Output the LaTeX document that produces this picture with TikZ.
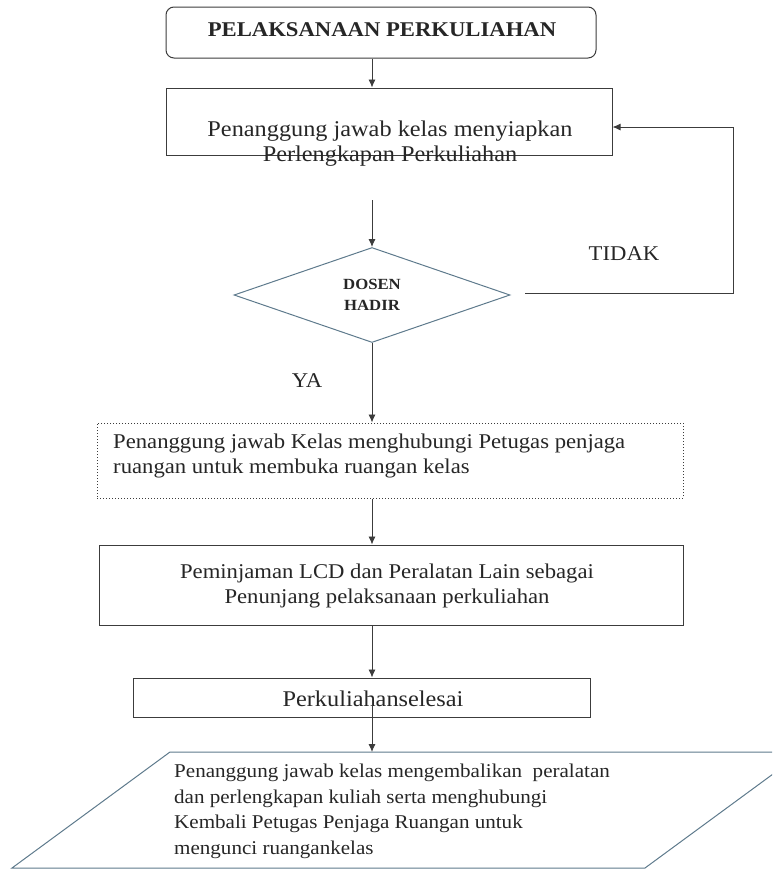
\documentclass[tikz,border=0pt]{standalone}
\usepackage{fontspec}
\setmainfont[FakeStretch=1.08]{Liberation Serif}
\usetikzlibrary{shapes.geometric,arrows.meta}
\definecolor{ln}{HTML}{3C3C3C}
\definecolor{bl}{HTML}{5E7A8C}
\tikzset{
  box/.style={draw=ln, line width=1pt, inner sep=0pt},
  txt/.style={inner sep=0pt, text=black!85, font=\fontsize{21}{25}\selectfont},
  arr/.style={draw=ln, line width=0.9pt, -{Latex[length=8pt,width=7pt]}},
  plain/.style={draw=ln, line width=1pt}
}
\begin{document}
\begin{tikzpicture}[x=1pt,y=-1pt]
\useasboundingbox (0,0) rectangle (772,871);
\clip (0,0) rectangle (772,871);
% title
\node[box, rounded corners=8pt, minimum width=430pt, minimum height=51pt] (title) at (381,32.5) {};
\node[txt, font=\fontsize{21}{24}\bfseries] (ttitle) at (382,30) {PELAKSANAAN PERKULIAHAN};
% box 2
\node[box, minimum width=446pt, minimum height=67pt] (b2) at (389,121.5) {};
\node[txt, align=center, font=\fontsize{22.5}{25}\selectfont] (t2) at (390,144) {Penanggung jawab kelas menyiapkan\\Perlengkapan Perkuliahan};
% diamond
\node[draw=bl, line width=1pt, diamond, aspect=2.9, inner sep=0pt, minimum width=276pt, minimum height=95pt] (dia) at (372,295) {};
\node[txt, font=\fontsize{15.5}{21}\bfseries, align=center] (tdia) at (372,295) {DOSEN\\HADIR};
\node[txt] (tidak) at (624,254) {TIDAK};
\node[txt] (ya) at (307,381) {YA};
% box 3
\node[box, dotted, minimum width=586pt, minimum height=75pt] (b3) at (390,460.5) {};
\node[txt, align=left, anchor=west] (t3) at (113,456) {Penanggung jawab Kelas menghubungi Petugas penjaga\\ruangan untuk membuka ruangan kelas};
% box 4
\node[box, minimum width=584pt, minimum height=80pt] (b4) at (391,585) {};
\node[txt, align=center] (t4) at (387,586) {Peminjaman LCD dan Peralatan Lain sebagai\\Penunjang pelaksanaan perkuliahan};
% box 5
\node[box, minimum width=457pt, minimum height=39pt] (b5) at (361.5,697.5) {};
\node[txt, font=\fontsize{22.5}{25}\selectfont] (t5) at (373,699) {Perkuliahanselesai};
% parallelogram
\coordinate (p1) at (170,752);
\coordinate (p2) at (803,752);
\coordinate (p3) at (645,868);
\coordinate (p4) at (12,868);
\draw[draw=bl, line width=1pt] (p1) -- (p2) -- (p3) -- (p4) -- cycle;
\coordinate (ptop) at (372,752);
\node[txt, align=left, anchor=north west, font=\fontsize{19.5}{25.5}\selectfont] (t6) at (174,764) {Penanggung jawab kelas mengembalikan \ peralatan\\dan perlengkapan kuliah serta menghubungi\\Kembali Petugas Penjaga Ruangan untuk\\mengunci ruangankelas};
% connectors
\coordinate (ax) at (372,0);
\draw[arr] (title.south -| ax) -- (b2.north -| ax);
\coordinate (c1) at (372,200);
\draw[arr] (c1) -- (dia.north);
\draw[arr] (dia.south) -- (b3.north -| ax);
\draw[arr] (b3.south -| ax) -- (b4.north -| ax);
\draw[arr] (b4.south -| ax) -- (b5.north -| ax);
\draw[arr] (b5.center -| ax) -- (ptop);
\coordinate (f1) at (525,293);
\coordinate (f2) at (733,293);
\coordinate (f3) at (733,127);
\draw[plain] (f1) -- (f2) -- (f3);
\draw[arr] (f3) -- (b2.east |- f3);
\end{tikzpicture}
\end{document}
